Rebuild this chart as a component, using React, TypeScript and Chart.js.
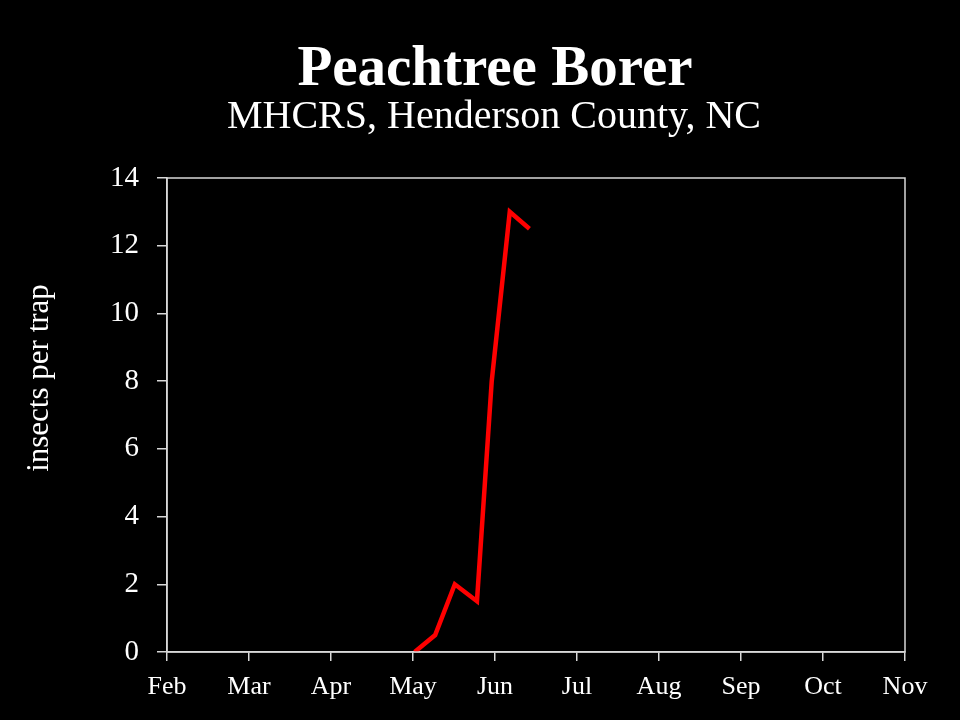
import React, { useEffect, useRef } from "react";
import { Chart, registerables } from "chart.js";

Chart.register(...registerables);

const titleText = "Peachtree Borer";
const subtitleText = "MHCRS, Henderson County, NC";
const yAxisTitle = "insects per trap";
const monthLabels = ["Feb", "Mar", "Apr", "May", "Jun", "Jul", "Aug", "Sep", "Oct", "Nov"];
// x positions in months after Feb 1 (Feb = 0)
const sampleMonths = [3.02, 3.27, 3.51, 3.78, 3.96, 4.18, 4.42];
const insectsPerTrap = [0, 0.5, 2, 1.5, 8, 13, 12.5];
const yTicks = [0, 2, 4, 6, 8, 10, 12, 14];

const FONT = "'Liberation Serif', 'DejaVu Serif', serif";

export default function App() {
  const ref = useRef<HTMLCanvasElement | null>(null);

  useEffect(() => {
    document.body.style.margin = "0";
    document.body.style.background = "#000";
    const canvas = ref.current;
    if (!canvas) return;

    const decor = {
      id: "decor",
      beforeDraw(chart: any) {
        const ctx = chart.ctx;
        ctx.save();
        ctx.fillStyle = "#000";
        ctx.fillRect(0, 0, chart.width, chart.height);
        ctx.restore();
      },
      afterDraw(chart: any) {
        const ctx = chart.ctx;
        const a = chart.chartArea;
        ctx.save();
        ctx.strokeStyle = "#d8d8d8";
        ctx.lineWidth = 1.5;
        ctx.strokeRect(a.left, a.top, a.right - a.left, a.bottom - a.top);
        ctx.fillStyle = "#fff";
        ctx.textAlign = "center";
        ctx.textBaseline = "alphabetic";
        ctx.font = `bold 57px ${FONT}`;
        ctx.fillText(titleText, 495, 85);
        ctx.font = `40px ${FONT}`;
        ctx.fillText(subtitleText, 494, 128);
        ctx.translate(48, 378);
        ctx.rotate(-Math.PI / 2);
        ctx.font = `31px ${FONT}`;
        ctx.fillText(yAxisTitle, 0, 0);
        ctx.restore();
      },
    };

    const chart = new Chart(canvas, {
      type: "line",
      data: {
        datasets: [
          {
            data: sampleMonths.map((m, i) => ({ x: m, y: insectsPerTrap[i] })),
            borderColor: "#ff0000",
            borderWidth: 4.5,
            pointRadius: 0,
            tension: 0,
          },
        ],
      },
      options: {
        animation: false,
        responsive: false,
        devicePixelRatio: 1,
        layout: { padding: { top: 178, right: 55, left: 0, bottom: 0 } },
        plugins: { legend: { display: false }, title: { display: false }, tooltip: { enabled: false } },
        scales: {
          x: {
            type: "linear",
            min: 0,
            max: 9,
            afterBuildTicks(scale: any) {
              scale.ticks = monthLabels.map((_, i) => ({ value: i }));
            },
            afterFit(scale: any) {
              scale.height = 68;
            },
            ticks: {
              color: "#fff",
              font: { family: FONT, size: 26 },
              padding: 11,
              maxRotation: 0,
              autoSkip: false,
              callback: (v: any) => monthLabels[Math.round(Number(v))] ?? "",
            },
            grid: { display: true, drawOnChartArea: false, drawTicks: true, tickLength: 9, color: "#d8d8d8", lineWidth: 1.5 },
            border: { display: true, color: "#d8d8d8", width: 1.5 },
          },
          y: {
            min: 0,
            max: 14,
            afterBuildTicks(scale: any) {
              scale.ticks = yTicks.map((v) => ({ value: v }));
            },
            afterFit(scale: any) {
              scale.width = 167;
            },
            ticks: {
              color: "#fff",
              font: { family: FONT, size: 29 },
              padding: 18,
            },
            grid: { display: true, drawOnChartArea: false, drawTicks: true, tickLength: 10, color: "#d8d8d8", lineWidth: 1.5 },
            border: { display: true, color: "#d8d8d8", width: 1.5 },
          },
        },
      },
      plugins: [decor],
    } as any);

    return () => chart.destroy();
  }, []);

  return (
    <div style={{ width: 960, height: 720, background: "#000" }}>
      <canvas ref={ref} width={960} height={720} style={{ display: "block" }} />
    </div>
  );
}
